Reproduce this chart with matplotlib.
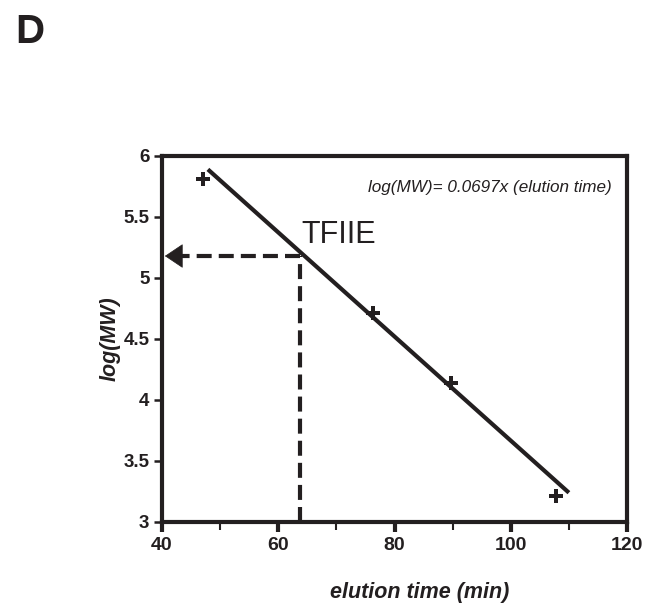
import matplotlib.pyplot as plt
from matplotlib.ticker import MultipleLocator

# calibration standards (elution time in min, log of molecular weight)
std_time = [47.1, 76.3, 89.7, 107.8]
std_logmw = [5.81, 4.71, 4.14, 3.21]

# fitted line endpoints
fit_time = [47.9, 110.0]
fit_logmw = [5.89, 3.24]

# TFIIE read-off
tfiie_time = 63.7
tfiie_logmw = 5.18

x_ticks = [40, 60, 80, 100, 120]
y_ticks = [3, 3.5, 4, 4.5, 5, 5.5, 6]
y_labels = ["3", "3.5", "4", "4.5", "5", "5.5", "6"]

INK = "#231f20"

plt.rcParams["font.family"] = ["Liberation Sans", "DejaVu Sans"]

fig = plt.figure(figsize=(6.55, 6.10), dpi=100)
ax = fig.add_axes([0.2473, 0.1443, 0.71, 0.6])

ax.plot(fit_time, fit_logmw, color=INK, lw=3, solid_capstyle="butt", zorder=3)
ax.plot(std_time, std_logmw, linestyle="none", marker="P", markersize=10,
        color=INK, markeredgewidth=0, zorder=4)

# dashed read-off lines
ax.plot([tfiie_time, tfiie_time], [3, tfiie_logmw], color=INK, lw=3,
        dashes=(3.6, 1.7), zorder=2)
ax.plot([tfiie_time, 43.2], [tfiie_logmw, tfiie_logmw], color=INK, lw=3,
        dashes=(3.6, 1.7), zorder=2)
ax.annotate("", xy=(40.5, tfiie_logmw), xytext=(43.6, tfiie_logmw),
            arrowprops=dict(arrowstyle="-|>,head_length=0.67,head_width=0.45",
                            color=INK, lw=0.5, mutation_scale=18,
                            shrinkA=0, shrinkB=0), zorder=3)

ax.text(tfiie_time + 0.3, tfiie_logmw + 0.05, "TFIIE", fontsize=22,
        color=INK, ha="left", va="bottom")
ax.text(0.968, 0.913, "log(MW)= 0.0697x (elution time)", transform=ax.transAxes,
        fontsize=12.3, style="italic", color=INK, ha="right", va="center")

ax.set_xlim(40, 120)
ax.set_ylim(3, 6)
ax.set_xticks(x_ticks)
ax.set_xticklabels([str(v) for v in x_ticks])
ax.xaxis.set_minor_locator(MultipleLocator(10))
ax.set_yticks(y_ticks)
ax.set_yticklabels(y_labels)

for s in ax.spines.values():
    s.set_linewidth(3)
    s.set_color(INK)

ax.tick_params(axis="x", which="major", direction="out", length=7, width=3,
               color=INK, labelsize=14, pad=4)
ax.tick_params(axis="x", which="minor", direction="out", length=6, width=1.5,
               color=INK)
ax.tick_params(axis="y", which="major", direction="out", length=6, width=1.8,
               color=INK, labelsize=13.5, pad=3)
for lab in ax.get_xticklabels() + ax.get_yticklabels():
    lab.set_fontweight("bold")
    lab.set_color(INK)

fig.text(0.641, 0.0295, "elution time (min)", fontsize=15.5, fontweight="bold",
         style="italic", color=INK, ha="center", va="center")
fig.text(0.168, 0.444, "log(MW)", fontsize=15.5, fontweight="bold",
         style="italic", color=INK, ha="center", va="center", rotation=90)

fig.text(0.024, 0.93, "D", fontsize=29, fontweight="bold", color=INK,
         ha="left", va="baseline")

fig.savefig("out.png", dpi=100)
